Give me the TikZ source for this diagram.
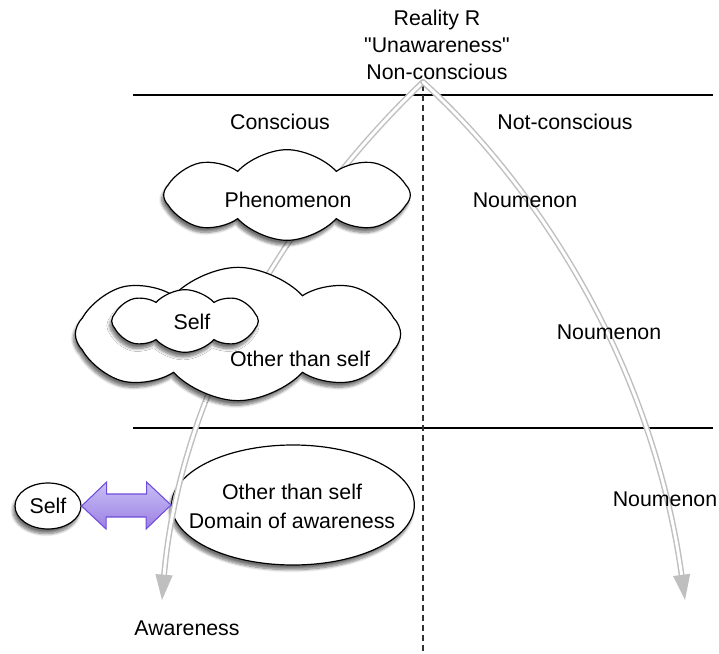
\documentclass[tikz,border=0pt]{standalone}
\usepackage{fontspec}
\setmainfont{Liberation Sans}
\usetikzlibrary{shapes.symbols,shapes.geometric,arrows.meta,shadows.blur,calc}

\tikzset{every picture/.style={line width=0.75pt}}
\tikzset{
  lbl/.style={inner sep=0.75pt, font=\fontsize{16}{20}\selectfont},
  cloudbox/.style={cloud, cloud puffs=8, cloud puff arc=95, cloud ignores aspect,
    draw=black, fill=white, line width=0.9pt, inner sep=0pt,
    blur shadow={shadow xshift=-1.5pt, shadow yshift=-3.5pt, shadow blur steps=8, shadow opacity=55}},
  ovalbox/.style={ellipse, draw=black, fill=white, line width=0.9pt, inner sep=0pt,
    blur shadow={shadow xshift=-1.5pt, shadow yshift=-3.5pt, shadow blur steps=8, shadow opacity=55}},
  flowtip/.style={fill=gray!50},
  flow/.style={draw=gray!50, double=white, line width=1.1pt, double distance=2.2pt, line cap=round,
    shorten >=16pt},
  swap/.style={draw=blue!60!violet!70, line width=0.8pt, top color=violet!25!blue!25, bottom color=violet!45!blue!50}
}

\begin{document}
\begin{tikzpicture}[x=0.75pt,y=0.75pt,yscale=-1,xscale=1]
\useasboundingbox (0,0) rectangle (719,654);

% Text Node
\node [lbl, align=center] (reality) at (437,45) {Reality R\\\textquotedbl Unawareness\textquotedbl\\Non-conscious};

% Straight Lines
\draw [line width=0.8pt] (133,95) -- (713,95);
\draw [line width=0.8pt] (133,428) -- (713,428);
\draw [line width=0.8pt, color=black!80, dash pattern=on 4.5pt off 3pt] (423,85) -- (423,654);

% Text Node
\node [lbl] (conscious) at (280,122) {Conscious};
\node [lbl] (notconscious) at (565,122) {Not-conscious};

% Shape: Ellipse
\node [ovalbox, minimum width=182pt, minimum height=90pt] (domain) at (293,505) {};
\node [ovalbox, minimum width=49.5pt, minimum height=34.5pt] (self) at (48,506) {};

% Curve Arrows
\coordinate (apex) at (423,82);
\coordinate (awaretip) at (162,600);
\coordinate (noumtip) at (685,600);
\coordinate (awarectl) at (180,380);
\coordinate (noumctl) at (650,340);
\draw [flow] (apex) .. controls (300,200) and (awarectl) .. (awaretip);
\draw [flow] (apex) .. controls (515,165) and (noumctl) .. (noumtip);
\foreach \tip/\ctl in {awaretip/awarectl, noumtip/noumctl}{
  \coordinate (base) at ($(\tip)!19pt!(\ctl)$);
  \fill [flowtip] (\tip) -- ($(base)!6.5pt!90:(\tip)$) -- ($(base)!6.5pt!-90:(\tip)$) -- cycle;
}

% Shape: Cloud
\node [cloudbox, minimum width=185pt, minimum height=68pt] (phen) at (287,195) {};
\node [cloudbox, minimum width=244pt, minimum height=100pt] (world) at (238,334) {};
\node [cloudbox, minimum width=110pt, minimum height=47pt] (inner) at (185,321) {};

% Shape: Double Arrow
\draw [swap] (self.east) -- ++(25,-24) -- ++(0,12) -- ++(40,0) -- ++(0,-12) -- (domain.west)
  -- ++(-25,24) -- ++(0,-12) -- ++(-40,0) -- ++(0,12) -- cycle;

% Text Node
\node [lbl] (phenlbl) at (288,200) {Phenomenon};
\node [lbl] (selflbl) at (192,322) {Self};
\node [lbl] (otherlbl) at (300,359) {Other than self};
\node [lbl] (selfb) at (self) {Self};
\node [lbl, align=center, font=\fontsize{16}{21.75}\selectfont] (domlbl) at (292,506) {Other than self\\Domain of awareness};
\node [lbl] (aware) at (187,628) {Awareness};
\node [lbl] (noum1) at (525,200) {Noumenon};
\node [lbl] (noum2) at (609,332) {Noumenon};
\node [lbl] (noum3) at (665,499) {Noumenon};
\end{tikzpicture}
\end{document}
